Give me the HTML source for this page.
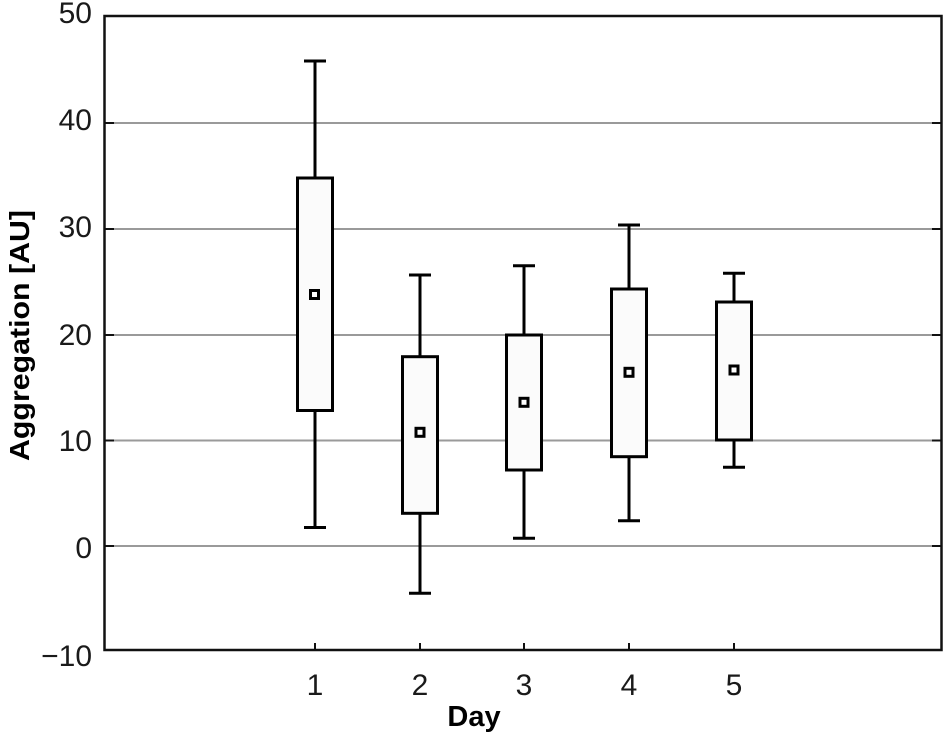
<!DOCTYPE html>
<html>
<head>
<meta charset="utf-8">
<style>
  html,body{margin:0;padding:0;background:#fff;}
  svg{display:block;}
  text{font-family:"Liberation Sans",sans-serif;}
</style>
</head>
<body>
<svg width="944" height="742" viewBox="0 0 944 742" xmlns="http://www.w3.org/2000/svg">
  <rect x="0" y="0" width="944" height="742" fill="#fff"/>
  <!-- gridlines -->
  <g stroke="#9a9a9a" stroke-width="2">
    <line x1="105" y1="123" x2="941" y2="123"/>
    <line x1="105" y1="229" x2="941" y2="229"/>
    <line x1="105" y1="335" x2="941" y2="335"/>
    <line x1="105" y1="440.5" x2="941" y2="440.5"/>
    <line x1="105" y1="546" x2="941" y2="546"/>
  </g>
  <!-- y ticks -->
  <g stroke="#111" stroke-width="2">
    <line x1="104" y1="123" x2="114" y2="123"/>
    <line x1="104" y1="229" x2="114" y2="229"/>
    <line x1="104" y1="335" x2="114" y2="335"/>
    <line x1="104" y1="440.5" x2="114" y2="440.5"/>
    <line x1="104" y1="546" x2="114" y2="546"/>
    <line x1="932" y1="123" x2="942" y2="123"/>
    <line x1="932" y1="229" x2="942" y2="229"/>
    <line x1="932" y1="335" x2="942" y2="335"/>
    <line x1="932" y1="440.5" x2="942" y2="440.5"/>
    <line x1="932" y1="546" x2="942" y2="546"/>
    <!-- x ticks -->
    <line x1="315" y1="643" x2="315" y2="650"/>
    <line x1="420" y1="643" x2="420" y2="650"/>
    <line x1="524" y1="643" x2="524" y2="650"/>
    <line x1="629" y1="643" x2="629" y2="650"/>
    <line x1="734" y1="643" x2="734" y2="650"/>
  </g>
  <!-- frame -->
  <rect x="104.5" y="16" width="837" height="634" fill="none" stroke="#111" stroke-width="2.5"/>

  <!-- boxes -->
  <g stroke="#000" stroke-width="3" fill="none">
    <!-- Day 1 -->
    <line x1="315" y1="61" x2="315" y2="178"/>
    <line x1="315" y1="410.5" x2="315" y2="527.5"/>
    <line x1="304" y1="61" x2="326" y2="61"/>
    <line x1="304" y1="527.5" x2="326" y2="527.5"/>
    <rect x="297.5" y="178" width="35" height="232.5" fill="#fbfbfb"/>
    <rect x="310.5" y="290.5" width="8" height="8" fill="#fff" stroke-width="3"/>
    <!-- Day 2 -->
    <line x1="420" y1="275" x2="420" y2="356.7"/>
    <line x1="420" y1="513.3" x2="420" y2="593.3"/>
    <line x1="409" y1="275" x2="431" y2="275"/>
    <line x1="409" y1="593.3" x2="431" y2="593.3"/>
    <rect x="402.5" y="356.7" width="35" height="156.6" fill="#fbfbfb"/>
    <rect x="416" y="428.3" width="8" height="8" fill="#fff"/>
    <!-- Day 3 -->
    <line x1="524" y1="265.7" x2="524" y2="335"/>
    <line x1="524" y1="470" x2="524" y2="538.3"/>
    <line x1="513" y1="265.7" x2="535" y2="265.7"/>
    <line x1="513" y1="538.3" x2="535" y2="538.3"/>
    <rect x="506.5" y="335" width="35" height="135" fill="#fbfbfb"/>
    <rect x="520" y="398.3" width="8" height="8" fill="#fff"/>
    <!-- Day 4 -->
    <line x1="629" y1="225" x2="629" y2="289"/>
    <line x1="629" y1="456.7" x2="629" y2="520.7"/>
    <line x1="618" y1="225" x2="640" y2="225"/>
    <line x1="618" y1="520.7" x2="640" y2="520.7"/>
    <rect x="611.5" y="289" width="35" height="167.7" fill="#fbfbfb"/>
    <rect x="625" y="368.3" width="8" height="8" fill="#fff"/>
    <!-- Day 5 -->
    <line x1="734" y1="273.3" x2="734" y2="302"/>
    <line x1="734" y1="440" x2="734" y2="467.3"/>
    <line x1="723" y1="273.3" x2="745" y2="273.3"/>
    <line x1="723" y1="467.3" x2="745" y2="467.3"/>
    <rect x="716.5" y="302" width="35" height="138" fill="#fbfbfb"/>
    <rect x="730" y="366" width="8" height="8" fill="#fff"/>
  </g>

  <!-- y tick labels -->
  <g font-size="30" fill="#1a1a1a" text-anchor="end">
    <text x="92" y="23">50</text>
    <text x="92" y="130">40</text>
    <text x="92" y="237">30</text>
    <text x="92" y="345">20</text>
    <text x="92" y="451">10</text>
    <text x="92" y="558">0</text>
    <text x="92" y="666">−10</text>
  </g>
  <!-- x tick labels -->
  <g font-size="30" fill="#1a1a1a" text-anchor="middle">
    <text x="315" y="695">1</text>
    <text x="420" y="695">2</text>
    <text x="524" y="695">3</text>
    <text x="629" y="695">4</text>
    <text x="734" y="695">5</text>
  </g>
  <!-- axis titles -->
  <text x="474" y="726" font-size="29" font-weight="bold" fill="#000" text-anchor="middle">Day</text>
  <text transform="translate(29,335.5) rotate(-90)" x="0" y="0" font-size="28" font-weight="bold" fill="#000" text-anchor="middle" textLength="251" lengthAdjust="spacingAndGlyphs">Aggregation [AU]</text>
</svg>
</body>
</html>
